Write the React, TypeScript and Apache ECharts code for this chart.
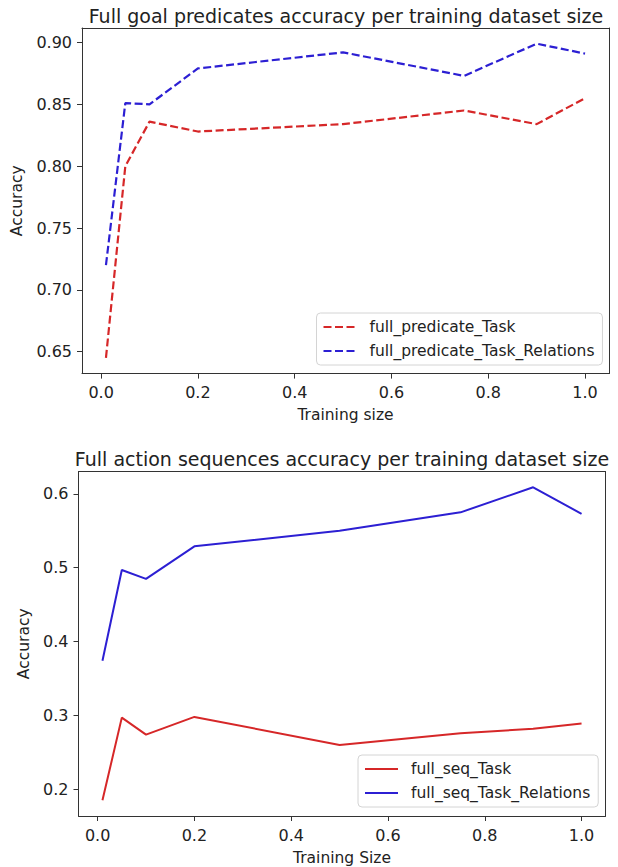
import { useEffect, useRef } from "react";
import * as echarts from "echarts";

const trainingSizes = [0.01, 0.05, 0.1, 0.2, 0.5, 0.75, 0.9, 1.0];
const fullPredicateTask = [0.645, 0.8, 0.836, 0.828, 0.834, 0.845, 0.834, 0.855];
const fullPredicateTaskRelations = [0.72, 0.851, 0.85, 0.879, 0.892, 0.873, 0.899, 0.891];
const fullSeqTask = [0.185, 0.297, 0.274, 0.298, 0.26, 0.276, 0.282, 0.289];
const fullSeqTaskRelations = [0.374, 0.497, 0.485, 0.529, 0.55, 0.575, 0.609, 0.573];

const xTicks = [0, 0.2, 0.4, 0.6, 0.8, 1.0];
const topYTicks = [0.65, 0.7, 0.75, 0.8, 0.85, 0.9];
const bottomYTicks = [0.2, 0.3, 0.4, 0.5, 0.6];

const topTitle = "Full goal predicates accuracy per training dataset size";
const bottomTitle = "Full action sequences accuracy per training dataset size";

const FONT = '"DejaVu Sans", Verdana, sans-serif';
const TEXT = "#222";
const FRAME = "#333";
const RED = "#d62728";
const BLUE = "#2c1fd3";

function padRange(values: number[]) {
  const mn = Math.min(...values);
  const mx = Math.max(...values);
  const m = (mx - mn) * 0.05;
  return [mn - m, mx + m];
}

export default function App() {
  const ref = useRef<HTMLDivElement>(null);
  useEffect(() => {
    if (!ref.current) return;
    const chart = echarts.init(ref.current, null, { renderer: "svg" });
    const [xMin, xMax] = padRange(trainingSizes);
    const [tMin, tMax] = padRange([...fullPredicateTask, ...fullPredicateTaskRelations]);
    const [bMin, bMax] = padRange([...fullSeqTask, ...fullSeqTaskRelations]);
    const pts = (ys: number[]) => trainingSizes.map((x, i) => [x, ys[i]]);

    const axisLine = { show: true, onZero: false, lineStyle: { color: FRAME, width: 1 } };

    const xAxisBase = (gridIndex: number, name: string, nameGap: number) => ({
      type: "value",
      gridIndex,
      position: "bottom",
      min: xMin,
      max: xMax,
      name,
      nameLocation: "middle",
      nameGap,
      nameTextStyle: { fontFamily: FONT, fontSize: 15.5, color: TEXT },
      axisLine,
      splitLine: { show: false },
      axisTick: { show: true, customValues: xTicks, length: 5, lineStyle: { color: FRAME, width: 1 } },
      axisLabel: {
        customValues: xTicks,
        formatter: (v: number) => v.toFixed(1),
        margin: 11,
        fontFamily: FONT,
        fontSize: 16,
        color: TEXT,
      },
    });
    const yAxisBase = (
      gridIndex: number,
      min: number,
      max: number,
      ticks: number[],
      digits: number,
      nameGap: number
    ) => ({
      type: "value",
      gridIndex,
      position: "left",
      min,
      max,
      name: "Accuracy",
      nameLocation: "middle",
      nameGap,
      nameTextStyle: { fontFamily: FONT, fontSize: 15.5, color: TEXT },
      axisLine,
      splitLine: { show: false },
      axisTick: { show: true, customValues: ticks, length: 5, lineStyle: { color: FRAME, width: 1 } },
      axisLabel: {
        customValues: ticks,
        formatter: (v: number) => v.toFixed(digits),
        margin: 10,
        fontFamily: FONT,
        fontSize: 16,
        color: TEXT,
      },
    });
    const frameAxis = (gridIndex: number, position: string) => ({
      type: "value",
      gridIndex,
      position,
      min: 0,
      max: 1,
      axisLine,
      axisTick: { show: false },
      axisLabel: { show: false },
      splitLine: { show: false },
    });

    const legendBase = (left: number, top: number, data: string[]) => ({
      orient: "vertical",
      left,
      top,
      data,
      itemStyle: { opacity: 0 },
      backgroundColor: "#fff",
      borderColor: "#d4d4d4",
      borderWidth: 1,
      borderRadius: 4,
      padding: [5, 8, 5, 6],
      itemGap: 6,
      itemWidth: 33,
      itemHeight: 14,
      selectedMode: false,
      textStyle: {
        fontFamily: FONT,
        fontSize: 15.5,
        color: TEXT,
        lineHeight: 18,
        padding: [0, 0, 0, 8],
      },
    });

    chart.setOption({
      animation: false,
      backgroundColor: "#fff",
      grid: [
        { left: 82, top: 28, width: 527, height: 345.6 },
        { left: 78.5, top: 471.6, width: 527, height: 345.2 },
      ],
      xAxis: [
        xAxisBase(0, "Training size", 33),
        xAxisBase(1, "Training Size", 34),
        frameAxis(0, "top"),
        frameAxis(1, "top"),
      ],
      yAxis: [
        yAxisBase(0, tMin, tMax, topYTicks, 2, 51),
        yAxisBase(1, bMin, bMax, bottomYTicks, 1, 44),
        frameAxis(0, "right"),
        frameAxis(1, "right"),
      ],
      legend: [
        legendBase(316.5, 313, ["full_predicate_Task", "full_predicate_Task_Relations"]),
        legendBase(358, 755, ["full_seq_Task", "full_seq_Task_Relations"]),
      ],
      graphic: [
        {
          type: "text",
          x: 346,
          y: 15.5,
          style: { text: topTitle, fontFamily: FONT, fontSize: 19, fill: TEXT, align: "center", verticalAlign: "middle" },
        },
        {
          type: "text",
          x: 342,
          y: 459,
          style: { text: bottomTitle, fontFamily: FONT, fontSize: 19, fill: TEXT, align: "center", verticalAlign: "middle" },
        },
      ],
      series: [
        {
          name: "full_predicate_Task",
          type: "line",
          xAxisIndex: 0,
          yAxisIndex: 0,
          data: pts(fullPredicateTask),
          symbol: "none",
          color: RED,
          lineStyle: { color: RED, width: 2.2, type: [8, 3.5] },
        },
        {
          name: "full_predicate_Task_Relations",
          type: "line",
          xAxisIndex: 0,
          yAxisIndex: 0,
          data: pts(fullPredicateTaskRelations),
          symbol: "none",
          color: BLUE,
          lineStyle: { color: BLUE, width: 2.2, type: [8, 3.5] },
        },
        {
          name: "full_seq_Task",
          type: "line",
          xAxisIndex: 1,
          yAxisIndex: 1,
          data: pts(fullSeqTask),
          symbol: "none",
          color: RED,
          lineStyle: { color: RED, width: 2 },
        },
        {
          name: "full_seq_Task_Relations",
          type: "line",
          xAxisIndex: 1,
          yAxisIndex: 1,
          data: pts(fullSeqTaskRelations),
          symbol: "none",
          color: BLUE,
          lineStyle: { color: BLUE, width: 2 },
        },
      ],
    });
    return () => chart.dispose();
  }, []);
  return (
    <div
      ref={ref}
      style={{ position: "absolute", left: 0, top: 0, width: 618, height: 867, background: "#fff" }}
    />
  );
}
